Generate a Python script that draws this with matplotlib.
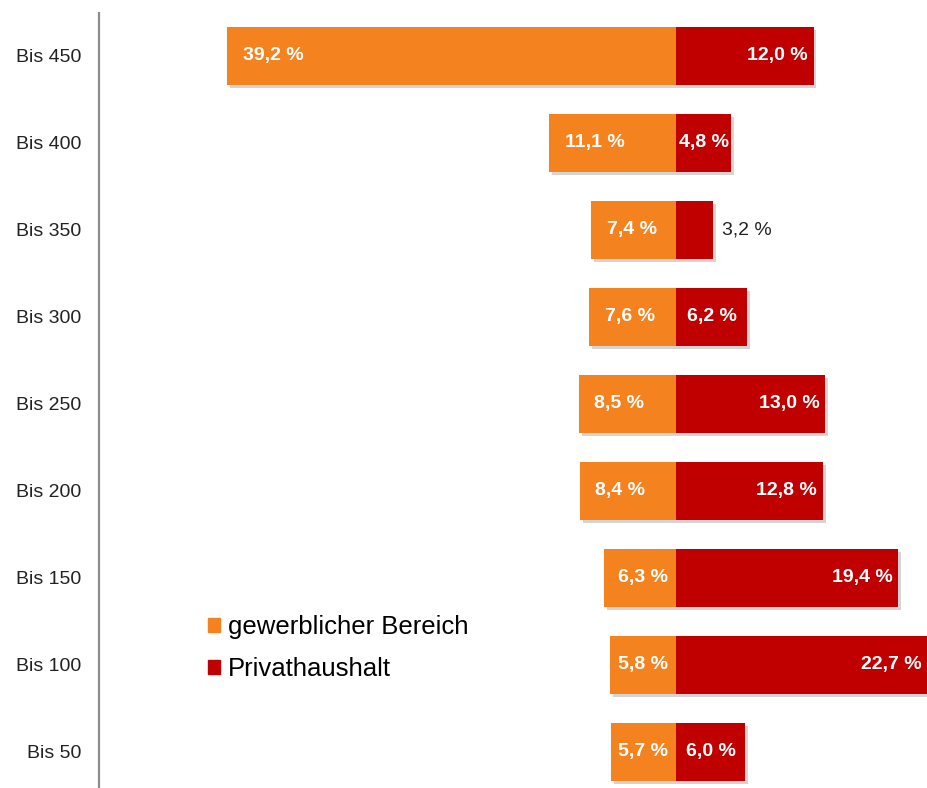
import matplotlib
matplotlib.use("Agg")
import matplotlib.pyplot as plt
import matplotlib.patheffects as pe
from matplotlib.patches import Patch
import numpy as np

plt.rcParams['font.family'] = ['Liberation Sans', 'DejaVu Sans']

# data (share in %)
categories = ["Bis 50", "Bis 100", "Bis 150", "Bis 200", "Bis 250",
              "Bis 300", "Bis 350", "Bis 400", "Bis 450"]
gewerblich = [5.7, 5.8, 6.3, 8.4, 8.5, 7.6, 7.4, 11.1, 39.2]
privat = [6.0, 22.7, 19.4, 12.8, 13.0, 6.2, 3.2, 4.8, 12.0]

orange = "#F4821F"
red = "#C00000"

fig = plt.figure(figsize=(9.27, 7.88), dpi=100)
ax = fig.add_axes([99 / 927, 0, 828 / 927, 1 - 13 / 788])

xmax = 21.9
y = np.arange(len(categories))
shadow = [pe.SimplePatchShadow(offset=(2, -2), shadow_rgbFace="#aaaaaa", alpha=0.5), pe.Normal()]

ax.barh(y, [-v for v in gewerblich], height=0.67, color=orange, path_effects=shadow)
ax.barh(y, privat, height=0.67, color=red, path_effects=shadow)


def fmt(v):
    return f"{v:.1f} %".replace(".", ",")


for i, v in enumerate(gewerblich):
    if v < 7:
        # narrow bar: label pushed against the centre line
        ax.text(-0.75, i, fmt(v), ha="right", va="center", color="white",
                fontsize=14, fontweight="bold")
    else:
        ax.text(-v + 1.35, i, fmt(v), ha="left", va="center", color="white",
                fontsize=14, fontweight="bold")

for i, v in enumerate(privat):
    if v < 4:
        ax.text(v + 0.8, i, fmt(v), ha="left", va="center", color="#222222", fontsize=14)
    elif v < 7:
        ax.text(v / 2, i, fmt(v), ha="center", va="center", color="white",
                fontsize=14, fontweight="bold")
    else:
        ax.text(min(v, xmax) - 0.5, i, fmt(v), ha="right", va="center", color="white",
                fontsize=14, fontweight="bold")

ax.set_xlim(-50.4, xmax)
ax.set_ylim(-0.414, 8.494)
ax.set_yticks(y)
ax.set_yticklabels(categories, fontsize=14, color="#222222")
ax.tick_params(axis="y", length=0, pad=13)
ax.set_xticks([])
for s in ["top", "right", "bottom"]:
    ax.spines[s].set_visible(False)
ax.spines["left"].set_color("#8c8c8c")
ax.spines["left"].set_linewidth(1.6)

handles = [Patch(color=orange, label="gewerblicher Bereich"),
           Patch(color=red, label="Privathaushalt")]
fig.legend(handles=handles, loc="upper left", bbox_to_anchor=(208 / 927, 1 - 615 / 788),
           frameon=False, fontsize=18.5, handlelength=0.47, handleheight=0.47,
           handletextpad=0.3, labelspacing=0.72, borderpad=0, borderaxespad=0)

fig.savefig("out.png", dpi=100)
